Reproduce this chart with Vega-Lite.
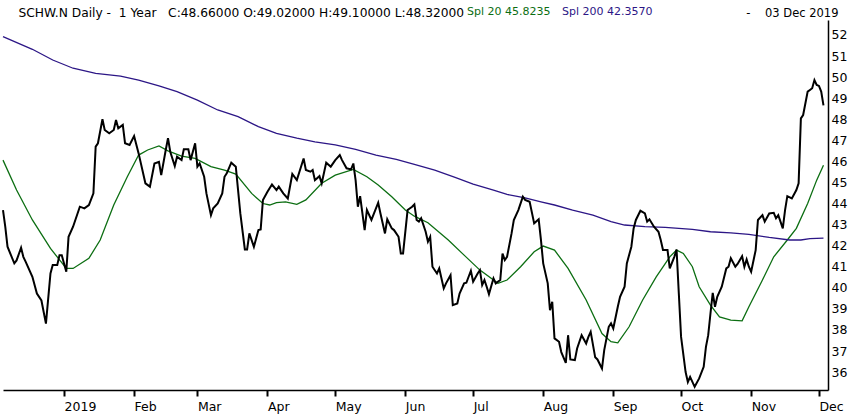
{
  "$schema": "https://vega.github.io/schema/vega-lite/v6.json",
  "width": 825,
  "height": 370,
  "autosize": {"type": "none"},
  "padding": {"left": 3, "top": 20, "right": 22, "bottom": 27},
  "background": "white",
  "config": {"view": {"stroke": null}, "font": "DejaVu Sans"},
  "data": {
    "values": [
      {"date": "2018-12-05", "series": "Close", "price": 43.69},
      {"date": "2018-12-06", "series": "Close", "price": 42.9},
      {"date": "2018-12-07", "series": "Close", "price": 41.95},
      {"date": "2018-12-10", "series": "Close", "price": 41.16},
      {"date": "2018-12-11", "series": "Close", "price": 41.3},
      {"date": "2018-12-13", "series": "Close", "price": 41.9},
      {"date": "2018-12-14", "series": "Close", "price": 41.47},
      {"date": "2018-12-15", "series": "Close", "price": 41.24},
      {"date": "2018-12-18", "series": "Close", "price": 40.52},
      {"date": "2018-12-20", "series": "Close", "price": 39.73},
      {"date": "2018-12-22", "series": "Close", "price": 39.4},
      {"date": "2018-12-24", "series": "Close", "price": 38.3},
      {"date": "2018-12-26", "series": "Close", "price": 40.68},
      {"date": "2018-12-27", "series": "Close", "price": 41.08},
      {"date": "2018-12-29", "series": "Close", "price": 41.08},
      {"date": "2018-12-30", "series": "Close", "price": 41.55},
      {"date": "2018-12-31", "series": "Close", "price": 41.55},
      {"date": "2019-01-02", "series": "Close", "price": 40.76},
      {"date": "2019-01-03", "series": "Close", "price": 42.42},
      {"date": "2019-01-05", "series": "Close", "price": 42.9},
      {"date": "2019-01-08", "series": "Close", "price": 43.85},
      {"date": "2019-01-10", "series": "Close", "price": 43.77},
      {"date": "2019-01-12", "series": "Close", "price": 43.93},
      {"date": "2019-01-14", "series": "Close", "price": 44.48},
      {"date": "2019-01-15", "series": "Close", "price": 46.7},
      {"date": "2019-01-16", "series": "Close", "price": 46.86},
      {"date": "2019-01-18", "series": "Close", "price": 48.0},
      {"date": "2019-01-19", "series": "Close", "price": 47.49},
      {"date": "2019-01-21", "series": "Close", "price": 47.33},
      {"date": "2019-01-23", "series": "Close", "price": 47.49},
      {"date": "2019-01-24", "series": "Close", "price": 47.96},
      {"date": "2019-01-25", "series": "Close", "price": 47.57},
      {"date": "2019-01-27", "series": "Close", "price": 47.73},
      {"date": "2019-01-28", "series": "Close", "price": 46.86},
      {"date": "2019-01-30", "series": "Close", "price": 46.78},
      {"date": "2019-02-01", "series": "Close", "price": 47.2},
      {"date": "2019-02-03", "series": "Close", "price": 46.38},
      {"date": "2019-02-06", "series": "Close", "price": 44.96},
      {"date": "2019-02-08", "series": "Close", "price": 44.8},
      {"date": "2019-02-10", "series": "Close", "price": 45.9},
      {"date": "2019-02-12", "series": "Close", "price": 45.98},
      {"date": "2019-02-13", "series": "Close", "price": 45.35},
      {"date": "2019-02-15", "series": "Close", "price": 46.54},
      {"date": "2019-02-16", "series": "Close", "price": 47.1},
      {"date": "2019-02-17", "series": "Close", "price": 46.46},
      {"date": "2019-02-19", "series": "Close", "price": 45.78},
      {"date": "2019-02-20", "series": "Close", "price": 46.22},
      {"date": "2019-02-22", "series": "Close", "price": 46.06},
      {"date": "2019-02-23", "series": "Close", "price": 46.57},
      {"date": "2019-02-25", "series": "Close", "price": 46.57},
      {"date": "2019-02-26", "series": "Close", "price": 46.06},
      {"date": "2019-02-28", "series": "Close", "price": 46.86},
      {"date": "2019-03-01", "series": "Close", "price": 45.75},
      {"date": "2019-03-02", "series": "Close", "price": 45.9},
      {"date": "2019-03-04", "series": "Close", "price": 45.27},
      {"date": "2019-03-05", "series": "Close", "price": 44.48},
      {"date": "2019-03-07", "series": "Close", "price": 43.45},
      {"date": "2019-03-08", "series": "Close", "price": 43.77},
      {"date": "2019-03-10", "series": "Close", "price": 44.0},
      {"date": "2019-03-12", "series": "Close", "price": 44.48},
      {"date": "2019-03-13", "series": "Close", "price": 45.27},
      {"date": "2019-03-14", "series": "Close", "price": 45.43},
      {"date": "2019-03-16", "series": "Close", "price": 45.94},
      {"date": "2019-03-18", "series": "Close", "price": 45.75},
      {"date": "2019-03-19", "series": "Close", "price": 44.64},
      {"date": "2019-03-20", "series": "Close", "price": 43.53},
      {"date": "2019-03-22", "series": "Close", "price": 41.82},
      {"date": "2019-03-23", "series": "Close", "price": 41.82},
      {"date": "2019-03-24", "series": "Close", "price": 42.58},
      {"date": "2019-03-26", "series": "Close", "price": 41.95},
      {"date": "2019-03-28", "series": "Close", "price": 42.74},
      {"date": "2019-03-29", "series": "Close", "price": 42.77},
      {"date": "2019-03-30", "series": "Close", "price": 44.17},
      {"date": "2019-04-01", "series": "Close", "price": 44.56},
      {"date": "2019-04-03", "series": "Close", "price": 44.9},
      {"date": "2019-04-05", "series": "Close", "price": 44.64},
      {"date": "2019-04-06", "series": "Close", "price": 44.8},
      {"date": "2019-04-08", "series": "Close", "price": 44.48},
      {"date": "2019-04-10", "series": "Close", "price": 44.24},
      {"date": "2019-04-12", "series": "Close", "price": 45.4},
      {"date": "2019-04-14", "series": "Close", "price": 45.11},
      {"date": "2019-04-17", "series": "Close", "price": 46.14},
      {"date": "2019-04-18", "series": "Close", "price": 45.59},
      {"date": "2019-04-20", "series": "Close", "price": 45.51},
      {"date": "2019-04-21", "series": "Close", "price": 45.59},
      {"date": "2019-04-22", "series": "Close", "price": 45.11},
      {"date": "2019-04-24", "series": "Close", "price": 45.3},
      {"date": "2019-04-25", "series": "Close", "price": 44.96},
      {"date": "2019-04-27", "series": "Close", "price": 45.94},
      {"date": "2019-04-29", "series": "Close", "price": 45.75},
      {"date": "2019-05-01", "series": "Close", "price": 46.06},
      {"date": "2019-05-03", "series": "Close", "price": 46.3},
      {"date": "2019-05-04", "series": "Close", "price": 46.06},
      {"date": "2019-05-06", "series": "Close", "price": 45.67},
      {"date": "2019-05-08", "series": "Close", "price": 45.62},
      {"date": "2019-05-09", "series": "Close", "price": 45.9},
      {"date": "2019-05-10", "series": "Close", "price": 45.11},
      {"date": "2019-05-11", "series": "Close", "price": 43.85},
      {"date": "2019-05-12", "series": "Close", "price": 44.35},
      {"date": "2019-05-14", "series": "Close", "price": 42.74},
      {"date": "2019-05-15", "series": "Close", "price": 43.69},
      {"date": "2019-05-17", "series": "Close", "price": 43.22},
      {"date": "2019-05-20", "series": "Close", "price": 44.04},
      {"date": "2019-05-21", "series": "Close", "price": 43.53},
      {"date": "2019-05-23", "series": "Close", "price": 42.58},
      {"date": "2019-05-24", "series": "Close", "price": 43.25},
      {"date": "2019-05-26", "series": "Close", "price": 42.82},
      {"date": "2019-05-27", "series": "Close", "price": 42.74},
      {"date": "2019-05-29", "series": "Close", "price": 42.42},
      {"date": "2019-05-30", "series": "Close", "price": 41.63},
      {"date": "2019-05-31", "series": "Close", "price": 41.63},
      {"date": "2019-06-02", "series": "Close", "price": 43.69},
      {"date": "2019-06-04", "series": "Close", "price": 43.85},
      {"date": "2019-06-05", "series": "Close", "price": 43.96},
      {"date": "2019-06-06", "series": "Close", "price": 43.22},
      {"date": "2019-06-07", "series": "Close", "price": 43.14},
      {"date": "2019-06-08", "series": "Close", "price": 43.3},
      {"date": "2019-06-10", "series": "Close", "price": 42.66},
      {"date": "2019-06-11", "series": "Close", "price": 42.19},
      {"date": "2019-06-12", "series": "Close", "price": 42.42},
      {"date": "2019-06-13", "series": "Close", "price": 41.0},
      {"date": "2019-06-15", "series": "Close", "price": 40.68},
      {"date": "2019-06-16", "series": "Close", "price": 40.92},
      {"date": "2019-06-18", "series": "Close", "price": 39.97},
      {"date": "2019-06-19", "series": "Close", "price": 40.21},
      {"date": "2019-06-21", "series": "Close", "price": 40.6},
      {"date": "2019-06-22", "series": "Close", "price": 39.18},
      {"date": "2019-06-24", "series": "Close", "price": 39.26},
      {"date": "2019-06-25", "series": "Close", "price": 39.73},
      {"date": "2019-06-27", "series": "Close", "price": 40.21},
      {"date": "2019-06-28", "series": "Close", "price": 40.24},
      {"date": "2019-06-30", "series": "Close", "price": 40.81},
      {"date": "2019-07-01", "series": "Close", "price": 40.29},
      {"date": "2019-07-03", "series": "Close", "price": 40.68},
      {"date": "2019-07-04", "series": "Close", "price": 40.84},
      {"date": "2019-07-05", "series": "Close", "price": 40.13},
      {"date": "2019-07-06", "series": "Close", "price": 40.37},
      {"date": "2019-07-07", "series": "Close", "price": 40.05},
      {"date": "2019-07-08", "series": "Close", "price": 39.7},
      {"date": "2019-07-10", "series": "Close", "price": 40.45},
      {"date": "2019-07-11", "series": "Close", "price": 40.21},
      {"date": "2019-07-13", "series": "Close", "price": 40.37},
      {"date": "2019-07-14", "series": "Close", "price": 41.63},
      {"date": "2019-07-15", "series": "Close", "price": 41.32},
      {"date": "2019-07-16", "series": "Close", "price": 41.47},
      {"date": "2019-07-18", "series": "Close", "price": 42.58},
      {"date": "2019-07-19", "series": "Close", "price": 43.22},
      {"date": "2019-07-21", "series": "Close", "price": 43.69},
      {"date": "2019-07-23", "series": "Close", "price": 44.32},
      {"date": "2019-07-24", "series": "Close", "price": 44.17},
      {"date": "2019-07-26", "series": "Close", "price": 44.08},
      {"date": "2019-07-28", "series": "Close", "price": 43.06},
      {"date": "2019-07-30", "series": "Close", "price": 43.25},
      {"date": "2019-07-31", "series": "Close", "price": 42.27},
      {"date": "2019-08-01", "series": "Close", "price": 41.16},
      {"date": "2019-08-03", "series": "Close", "price": 40.21},
      {"date": "2019-08-04", "series": "Close", "price": 38.94},
      {"date": "2019-08-05", "series": "Close", "price": 39.34},
      {"date": "2019-08-06", "series": "Close", "price": 37.6},
      {"date": "2019-08-08", "series": "Close", "price": 37.44},
      {"date": "2019-08-09", "series": "Close", "price": 36.95},
      {"date": "2019-08-11", "series": "Close", "price": 36.44},
      {"date": "2019-08-12", "series": "Close", "price": 37.75},
      {"date": "2019-08-13", "series": "Close", "price": 36.6},
      {"date": "2019-08-15", "series": "Close", "price": 36.57},
      {"date": "2019-08-16", "series": "Close", "price": 37.12},
      {"date": "2019-08-18", "series": "Close", "price": 37.75},
      {"date": "2019-08-20", "series": "Close", "price": 37.36},
      {"date": "2019-08-21", "series": "Close", "price": 37.67},
      {"date": "2019-08-22", "series": "Close", "price": 37.91},
      {"date": "2019-08-24", "series": "Close", "price": 36.7},
      {"date": "2019-08-25", "series": "Close", "price": 36.6},
      {"date": "2019-08-27", "series": "Close", "price": 36.17},
      {"date": "2019-08-28", "series": "Close", "price": 37.04},
      {"date": "2019-08-30", "series": "Close", "price": 38.15},
      {"date": "2019-08-31", "series": "Close", "price": 38.31},
      {"date": "2019-09-01", "series": "Close", "price": 38.07},
      {"date": "2019-09-03", "series": "Close", "price": 39.1},
      {"date": "2019-09-04", "series": "Close", "price": 39.57},
      {"date": "2019-09-06", "series": "Close", "price": 40.05},
      {"date": "2019-09-07", "series": "Close", "price": 41.16},
      {"date": "2019-09-09", "series": "Close", "price": 41.95},
      {"date": "2019-09-10", "series": "Close", "price": 42.82},
      {"date": "2019-09-11", "series": "Close", "price": 43.22},
      {"date": "2019-09-13", "series": "Close", "price": 43.66},
      {"date": "2019-09-15", "series": "Close", "price": 43.53},
      {"date": "2019-09-16", "series": "Close", "price": 43.14},
      {"date": "2019-09-17", "series": "Close", "price": 43.25},
      {"date": "2019-09-19", "series": "Close", "price": 42.9},
      {"date": "2019-09-21", "series": "Close", "price": 42.66},
      {"date": "2019-09-22", "series": "Close", "price": 42.27},
      {"date": "2019-09-23", "series": "Close", "price": 41.79},
      {"date": "2019-09-25", "series": "Close", "price": 41.79},
      {"date": "2019-09-26", "series": "Close", "price": 40.92},
      {"date": "2019-09-28", "series": "Close", "price": 41.47},
      {"date": "2019-09-29", "series": "Close", "price": 41.82},
      {"date": "2019-09-30", "series": "Close", "price": 39.73},
      {"date": "2019-10-01", "series": "Close", "price": 37.67},
      {"date": "2019-10-03", "series": "Close", "price": 36.0},
      {"date": "2019-10-04", "series": "Close", "price": 35.53},
      {"date": "2019-10-05", "series": "Close", "price": 35.77},
      {"date": "2019-10-07", "series": "Close", "price": 35.3},
      {"date": "2019-10-09", "series": "Close", "price": 35.7},
      {"date": "2019-10-11", "series": "Close", "price": 36.25},
      {"date": "2019-10-12", "series": "Close", "price": 37.2},
      {"date": "2019-10-13", "series": "Close", "price": 37.75},
      {"date": "2019-10-14", "series": "Close", "price": 38.78},
      {"date": "2019-10-15", "series": "Close", "price": 39.76},
      {"date": "2019-10-16", "series": "Close", "price": 39.1},
      {"date": "2019-10-17", "series": "Close", "price": 39.57},
      {"date": "2019-10-19", "series": "Close", "price": 40.05},
      {"date": "2019-10-21", "series": "Close", "price": 40.92},
      {"date": "2019-10-22", "series": "Close", "price": 41.0},
      {"date": "2019-10-23", "series": "Close", "price": 41.4},
      {"date": "2019-10-25", "series": "Close", "price": 41.0},
      {"date": "2019-10-26", "series": "Close", "price": 41.13},
      {"date": "2019-10-28", "series": "Close", "price": 41.5},
      {"date": "2019-10-29", "series": "Close", "price": 41.0},
      {"date": "2019-10-30", "series": "Close", "price": 41.35},
      {"date": "2019-10-31", "series": "Close", "price": 41.0},
      {"date": "2019-11-01", "series": "Close", "price": 40.76},
      {"date": "2019-11-03", "series": "Close", "price": 41.79},
      {"date": "2019-11-04", "series": "Close", "price": 43.22},
      {"date": "2019-11-06", "series": "Close", "price": 43.45},
      {"date": "2019-11-07", "series": "Close", "price": 43.14},
      {"date": "2019-11-09", "series": "Close", "price": 43.53},
      {"date": "2019-11-11", "series": "Close", "price": 43.56},
      {"date": "2019-11-12", "series": "Close", "price": 43.3},
      {"date": "2019-11-13", "series": "Close", "price": 43.45},
      {"date": "2019-11-15", "series": "Close", "price": 42.82},
      {"date": "2019-11-16", "series": "Close", "price": 43.69},
      {"date": "2019-11-17", "series": "Close", "price": 44.35},
      {"date": "2019-11-19", "series": "Close", "price": 44.24},
      {"date": "2019-11-21", "series": "Close", "price": 44.64},
      {"date": "2019-11-22", "series": "Close", "price": 44.96},
      {"date": "2019-11-23", "series": "Close", "price": 48.04},
      {"date": "2019-11-24", "series": "Close", "price": 48.2},
      {"date": "2019-11-26", "series": "Close", "price": 49.31},
      {"date": "2019-11-27", "series": "Close", "price": 49.39},
      {"date": "2019-11-28", "series": "Close", "price": 49.47},
      {"date": "2019-11-29", "series": "Close", "price": 49.86},
      {"date": "2019-11-30", "series": "Close", "price": 49.63},
      {"date": "2019-12-01", "series": "Close", "price": 49.58},
      {"date": "2019-12-02", "series": "Close", "price": 49.31},
      {"date": "2019-12-03", "series": "Close", "price": 48.66},

      {"date": "2018-12-05", "series": "Spl 20", "price": 46.06},
      {"date": "2018-12-11", "series": "Spl 20", "price": 44.64},
      {"date": "2018-12-18", "series": "Spl 20", "price": 43.22},
      {"date": "2018-12-26", "series": "Spl 20", "price": 41.87},
      {"date": "2019-01-02", "series": "Spl 20", "price": 40.92},
      {"date": "2019-01-05", "series": "Spl 20", "price": 40.92},
      {"date": "2019-01-12", "series": "Spl 20", "price": 41.4},
      {"date": "2019-01-17", "series": "Spl 20", "price": 42.27},
      {"date": "2019-01-23", "series": "Spl 20", "price": 43.93},
      {"date": "2019-01-29", "series": "Spl 20", "price": 45.27},
      {"date": "2019-02-03", "series": "Spl 20", "price": 46.3},
      {"date": "2019-02-07", "series": "Spl 20", "price": 46.54},
      {"date": "2019-02-12", "series": "Spl 20", "price": 46.73},
      {"date": "2019-02-16", "series": "Spl 20", "price": 46.5},
      {"date": "2019-02-22", "series": "Spl 20", "price": 46.25},
      {"date": "2019-02-28", "series": "Spl 20", "price": 46.14},
      {"date": "2019-03-07", "series": "Spl 20", "price": 45.75},
      {"date": "2019-03-13", "series": "Spl 20", "price": 45.59},
      {"date": "2019-03-18", "series": "Spl 20", "price": 45.4},
      {"date": "2019-03-25", "series": "Spl 20", "price": 44.48},
      {"date": "2019-03-30", "series": "Spl 20", "price": 44.0},
      {"date": "2019-04-02", "series": "Spl 20", "price": 43.93},
      {"date": "2019-04-05", "series": "Spl 20", "price": 44.04},
      {"date": "2019-04-09", "series": "Spl 20", "price": 44.08},
      {"date": "2019-04-14", "series": "Spl 20", "price": 43.96},
      {"date": "2019-04-18", "series": "Spl 20", "price": 44.17},
      {"date": "2019-04-25", "series": "Spl 20", "price": 44.96},
      {"date": "2019-05-01", "series": "Spl 20", "price": 45.35},
      {"date": "2019-05-09", "series": "Spl 20", "price": 45.62},
      {"date": "2019-05-15", "series": "Spl 20", "price": 45.27},
      {"date": "2019-05-20", "series": "Spl 20", "price": 44.88},
      {"date": "2019-05-26", "series": "Spl 20", "price": 44.32},
      {"date": "2019-06-01", "series": "Spl 20", "price": 43.69},
      {"date": "2019-06-05", "series": "Spl 20", "price": 43.4},
      {"date": "2019-06-11", "series": "Spl 20", "price": 43.09},
      {"date": "2019-06-20", "series": "Spl 20", "price": 42.27},
      {"date": "2019-06-27", "series": "Spl 20", "price": 41.55},
      {"date": "2019-07-04", "series": "Spl 20", "price": 40.84},
      {"date": "2019-07-12", "series": "Spl 20", "price": 40.21},
      {"date": "2019-07-16", "series": "Spl 20", "price": 40.37},
      {"date": "2019-07-22", "series": "Spl 20", "price": 41.0},
      {"date": "2019-07-28", "series": "Spl 20", "price": 41.71},
      {"date": "2019-08-01", "series": "Spl 20", "price": 41.98},
      {"date": "2019-08-06", "series": "Spl 20", "price": 41.79},
      {"date": "2019-08-12", "series": "Spl 20", "price": 40.92},
      {"date": "2019-08-20", "series": "Spl 20", "price": 39.42},
      {"date": "2019-08-27", "series": "Spl 20", "price": 37.83},
      {"date": "2019-08-31", "series": "Spl 20", "price": 37.44},
      {"date": "2019-09-03", "series": "Spl 20", "price": 37.39},
      {"date": "2019-09-08", "series": "Spl 20", "price": 38.15},
      {"date": "2019-09-14", "series": "Spl 20", "price": 39.42},
      {"date": "2019-09-20", "series": "Spl 20", "price": 40.52},
      {"date": "2019-09-26", "series": "Spl 20", "price": 41.47},
      {"date": "2019-09-29", "series": "Spl 20", "price": 41.79},
      {"date": "2019-10-02", "series": "Spl 20", "price": 41.63},
      {"date": "2019-10-06", "series": "Spl 20", "price": 41.0},
      {"date": "2019-10-09", "series": "Spl 20", "price": 40.05},
      {"date": "2019-10-14", "series": "Spl 20", "price": 39.18},
      {"date": "2019-10-18", "series": "Spl 20", "price": 38.62},
      {"date": "2019-10-23", "series": "Spl 20", "price": 38.47},
      {"date": "2019-10-28", "series": "Spl 20", "price": 38.43},
      {"date": "2019-10-31", "series": "Spl 20", "price": 39.1},
      {"date": "2019-11-06", "series": "Spl 20", "price": 40.37},
      {"date": "2019-11-11", "series": "Spl 20", "price": 41.47},
      {"date": "2019-11-17", "series": "Spl 20", "price": 42.27},
      {"date": "2019-11-21", "series": "Spl 20", "price": 42.82},
      {"date": "2019-11-26", "series": "Spl 20", "price": 44.0},
      {"date": "2019-11-30", "series": "Spl 20", "price": 45.11},
      {"date": "2019-12-03", "series": "Spl 20", "price": 45.82},

      {"date": "2018-12-05", "series": "Spl 200", "price": 51.92},
      {"date": "2018-12-18", "series": "Spl 200", "price": 51.32},
      {"date": "2018-12-27", "series": "Spl 200", "price": 50.81},
      {"date": "2019-01-05", "series": "Spl 200", "price": 50.42},
      {"date": "2019-01-15", "series": "Spl 200", "price": 50.18},
      {"date": "2019-01-26", "series": "Spl 200", "price": 50.05},
      {"date": "2019-02-03", "series": "Spl 200", "price": 49.86},
      {"date": "2019-02-12", "series": "Spl 200", "price": 49.58},
      {"date": "2019-02-20", "series": "Spl 200", "price": 49.31},
      {"date": "2019-03-01", "series": "Spl 200", "price": 48.91},
      {"date": "2019-03-10", "series": "Spl 200", "price": 48.44},
      {"date": "2019-03-19", "series": "Spl 200", "price": 48.12},
      {"date": "2019-03-28", "series": "Spl 200", "price": 47.65},
      {"date": "2019-04-05", "series": "Spl 200", "price": 47.33},
      {"date": "2019-04-14", "series": "Spl 200", "price": 47.1},
      {"date": "2019-04-22", "series": "Spl 200", "price": 46.93},
      {"date": "2019-05-01", "series": "Spl 200", "price": 46.78},
      {"date": "2019-05-10", "series": "Spl 200", "price": 46.57},
      {"date": "2019-05-19", "series": "Spl 200", "price": 46.3},
      {"date": "2019-05-28", "series": "Spl 200", "price": 46.1},
      {"date": "2019-06-05", "series": "Spl 200", "price": 45.86},
      {"date": "2019-06-14", "series": "Spl 200", "price": 45.59},
      {"date": "2019-06-23", "series": "Spl 200", "price": 45.24},
      {"date": "2019-07-01", "series": "Spl 200", "price": 44.92},
      {"date": "2019-07-10", "series": "Spl 200", "price": 44.64},
      {"date": "2019-07-16", "series": "Spl 200", "price": 44.43},
      {"date": "2019-07-24", "series": "Spl 200", "price": 44.27},
      {"date": "2019-07-31", "series": "Spl 200", "price": 44.08},
      {"date": "2019-08-06", "series": "Spl 200", "price": 43.93},
      {"date": "2019-08-14", "series": "Spl 200", "price": 43.69},
      {"date": "2019-08-23", "series": "Spl 200", "price": 43.45},
      {"date": "2019-08-31", "series": "Spl 200", "price": 43.14},
      {"date": "2019-09-06", "series": "Spl 200", "price": 42.98},
      {"date": "2019-09-15", "series": "Spl 200", "price": 42.9},
      {"date": "2019-09-24", "series": "Spl 200", "price": 42.87},
      {"date": "2019-10-06", "series": "Spl 200", "price": 42.77},
      {"date": "2019-10-14", "series": "Spl 200", "price": 42.66},
      {"date": "2019-10-23", "series": "Spl 200", "price": 42.61},
      {"date": "2019-10-31", "series": "Spl 200", "price": 42.54},
      {"date": "2019-11-09", "series": "Spl 200", "price": 42.39},
      {"date": "2019-11-18", "series": "Spl 200", "price": 42.27},
      {"date": "2019-11-23", "series": "Spl 200", "price": 42.27},
      {"date": "2019-11-27", "series": "Spl 200", "price": 42.33},
      {"date": "2019-12-03", "series": "Spl 200", "price": 42.36}
    ]
  },
  "encoding": {
    "x": {
      "field": "date",
      "type": "temporal",
      "scale": {"domain": [{"year": 2018, "month": 12, "date": 5}, {"year": 2019, "month": 12, "date": 5}]},
      "axis": {
        "grid": false,
        "tickCount": {"interval": "month", "step": 1},
        "labelExpr": "month(datum.value) == 0 ? timeFormat(datum.value, '%Y') : timeFormat(datum.value, '%b')",
        "labelAlign": "left",
        "labelFlush": false,
        "labelOverlap": false,
        "labelBound": false,
        "labelPadding": 4,
        "labelFontSize": 12.5,
        "labelColor": "black",
        "tickColor": "black",
        "tickSize": 6,
        "tickWidth": 2,
        "domainColor": "black",
        "domainWidth": 1.5,
        "title": "SCHW.N Daily -\u00a0 1 Year \u00a0 C:48.66000 O:49.02000 H:49.10000 L:48.32000",
        "titleX": 15,
        "titleY": -373.5,
        "titleAlign": "left",
        "titleAnchor": "start",
        "titleBaseline": "alphabetic",
        "titleFontSize": 12.25,
        "titleFontWeight": "normal",
        "titleColor": "black"
      }
    },
    "y": {
      "field": "price",
      "type": "quantitative",
      "scale": {"domain": [35.15, 52.71], "nice": false, "zero": false},
      "axis": {
        "orient": "right",
        "grid": false,
        "values": [36, 37, 38, 39, 40, 41, 42, 43, 44, 45, 46, 47, 48, 49, 50, 51, 52],
        "ticks": false,
        "tickSize": 0,
        "labelPadding": 3,
        "labelFontSize": 12.5,
        "labelColor": "black",
        "domainColor": "black",
        "domainWidth": 1.5,
        "title": "-\u00a0\u00a0\u00a0\u00a003 Dec 2019",
        "titleAngle": 0,
        "titleX": 10,
        "titleY": -3.5,
        "titleAlign": "right",
        "titleBaseline": "alphabetic",
        "titleFontSize": 11.5,
        "titleFontWeight": "normal",
        "titleColor": "black"
      }
    }
  },
  "layer": [
    {
      "transform": [{"filter": "datum.series != 'Close'"}],
      "mark": {"type": "line", "strokeWidth": 1.3},
      "encoding": {
        "color": {
          "field": "series",
          "type": "nominal",
          "scale": {"domain": ["Spl 20", "Spl 200"], "range": ["#0c6e12", "#2c1686"]},
          "legend": {
            "orient": "none",
            "legendX": 453,
            "legendY": -14,
            "direction": "horizontal",
            "title": null,
            "padding": 0,
            "symbolSize": 0,
            "symbolStrokeWidth": 0,
            "symbolOpacity": 0,
            "labelOffset": 0,
            "columnPadding": -5,
            "labelFontSize": 11,
            "labelExpr": "datum.label == 'Spl 20' ? 'Spl 20 45.8235' : 'Spl 200 42.3570'",
            "labelColor": {"expr": "datum.value == 'Spl 20' ? '#0c6e12' : '#2c1686'"}
          }
        }
      }
    },
    {
      "transform": [{"filter": "datum.series == 'Close'"}],
      "mark": {"type": "line", "color": "black", "strokeWidth": 2}
    }
  ]
}
